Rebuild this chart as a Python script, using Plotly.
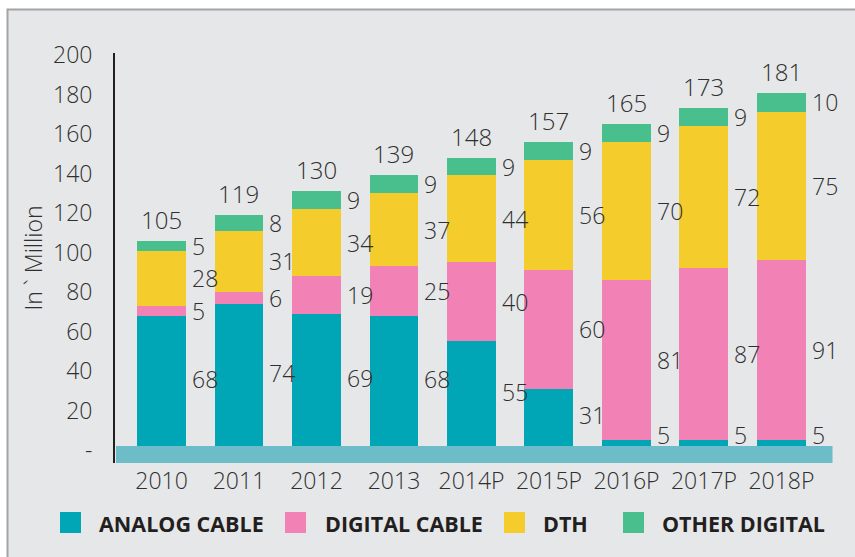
import plotly.graph_objects as go

# ---------------- data ----------------
years = ["2010", "2011", "2012", "2013", "2014P", "2015P", "2016P", "2017P", "2018P"]
analog_cable = [68, 74, 69, 68, 55, 31, 5, 5, 5]
digital_cable = [5, 6, 19, 25, 40, 60, 81, 87, 91]
dth = [28, 31, 34, 37, 44, 56, 70, 72, 75]
other_digital = [5, 8, 9, 9, 9, 9, 9, 9, 10]
totals = [105, 119, 130, 139, 148, 157, 165, 173, 181]
series_names = ["ANALOG CABLE", "DIGITAL CABLE", "DTH", "OTHER DIGITAL"]
y_tick_values = [0, 20, 40, 60, 80, 100, 120, 140, 160, 180, 200]
y_tick_text = ["-", "20", "40", "60", "80", "100", "120", "140", "160", "180", "200"]
y_title = "In ` Million"

# ---------------- style ----------------
colors = ["#00a6b6", "#f281b5", "#f4cc2c", "#4abf8e"]
FONT = "Open Sans"
TXT = "#2f2f2f"
BG = "#e6e7e9"
W, H = 855, 557
ML, MR, MT, MB = 115, 23, 53, 94
PW, PH = W - ML - MR, H - MT - MB
BAR_W = 0.632
Y_RANGE = [-6.6, 201]
X_RANGE = [-0.6, 8.652]
LIGHT = 300


def px_x(p):
    return (p - ML) / PW


def px_y(p):
    return (H - MB - p) / PH


series = [analog_cable, digital_cable, dth, other_digital]

fig = go.Figure()
for name, vals, col in zip(series_names, series, colors):
    fig.add_trace(go.Bar(x=years, y=vals, name=name, marker_color=col,
                         marker_line_width=0, width=BAR_W, showlegend=False,
                         hoverinfo="x+y+name"))

annotations = []
num_font = dict(family=FONT, size=23, color=TXT, weight=LIGHT)
# segment labels to the right of each bar
bar_half_px = BAR_W * PW / (X_RANGE[1] - X_RANGE[0]) / 2
for s_idx, vals in enumerate(series):
    for i in range(len(years)):
        base = sum(series[k][i] for k in range(s_idx))
        center = base + vals[i] / 2
        yshift = 0
        if s_idx == 0:
            yshift = 10 if vals[i] < 10 else 4
        annotations.append(dict(x=i, y=center, xref="x", yref="y", text=str(vals[i]),
                                showarrow=False, xanchor="left", yanchor="middle",
                                xshift=bar_half_px + 4, yshift=yshift, font=num_font))
# totals above bars
for i in range(len(years)):
    top = sum(s[i] for s in series)
    annotations.append(dict(x=i, y=top, xref="x", yref="y", text=str(totals[i]),
                            showarrow=False, xanchor="center", yanchor="middle",
                            yshift=21.5, font=dict(family=FONT, size=24, color=TXT, weight=LIGHT)))

# manual legend
legend_sq_x = [60, 285, 504, 623]
legend_txt_x = [97, 322.7, 540.7, 660]
shapes = []
# frame / background
shapes.append(dict(type="rect", xref="paper", yref="paper", layer="below",
                   x0=px_x(7.5), x1=px_x(870), y0=px_y(580), y1=px_y(9.5),
                   fillcolor=BG, line=dict(color="#a3a4a6", width=2)))
for k in range(4):
    shapes.append(dict(type="rect", xref="paper", yref="paper", layer="above",
                       x0=px_x(legend_sq_x[k]), x1=px_x(legend_sq_x[k] + 21),
                       y0=px_y(533), y1=px_y(512), fillcolor=colors[k], line_width=0))
    annotations.append(dict(x=px_x(legend_txt_x[k]), y=px_y(523.3), xref="paper", yref="paper",
                            text="<b>" + series_names[k] + "</b>", showarrow=False,
                            xanchor="left", yanchor="middle",
                            font=dict(family=FONT, size=21.5, color="#231f20")))
# decorative band at the base
shapes.append(dict(type="rect", xref="paper", yref="y", layer="above",
                   x0=px_x(116), x1=px_x(832.5), y0=Y_RANGE[0], y1=2.0,
                   fillcolor="#6cbdc8", line_width=0))

fig.update_layout(
    width=W, height=H, barmode="stack",
    margin=dict(l=ML, r=MR, t=MT, b=MB, pad=0),
    paper_bgcolor="white", plot_bgcolor="rgba(0,0,0,0)",
    font=dict(family=FONT, size=23, color=TXT),
    shapes=shapes, annotations=annotations, showlegend=False,
)
fig.update_xaxes(type="category", range=X_RANGE, showgrid=False, zeroline=False, showline=False,
                 ticks="", tickfont=num_font, ticklabelstandoff=2, fixedrange=True)
fig.update_yaxes(range=Y_RANGE, showgrid=False, zeroline=False, showline=True,
                 linecolor="#231f20", linewidth=2, ticks="",
                 tickvals=y_tick_values, ticktext=y_tick_text,
                 tickfont=num_font, ticklabelstandoff=16,
                 title=dict(text=y_title, font=num_font, standoff=4),
                 fixedrange=True)

fig.write_html("out.html", config={"displayModeBar": False},
               post_script="document.body.style.margin='0px';")
